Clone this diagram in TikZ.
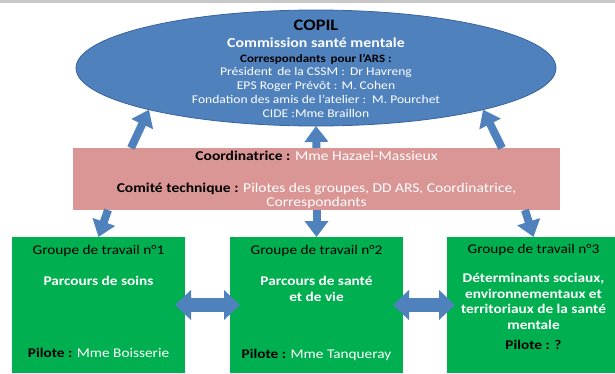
\documentclass[tikz,border=0pt]{standalone}
\usepackage{fontspec}
\setmainfont{Carlito}[FakeStretch=1.15]
\usepackage{xcolor}
\usepackage{tikz}
\usetikzlibrary{positioning,shapes.geometric,arrows.meta}

\definecolor{copilbleu}{HTML}{4F81BD}
\definecolor{copilbord}{HTML}{3A64A0}
\definecolor{comiterose}{HTML}{D99694}
\definecolor{groupevert}{HTML}{00B050}
\definecolor{cadregris}{HTML}{C8C8C8}

\begin{document}
\begin{tikzpicture}[x=1pt,y=-1pt]

\tikzstyle{every node}=[inner sep=0pt, outer sep=0pt]
\tikzstyle{groupe}=[rectangle, fill=groupevert, minimum width=173pt, minimum height=136pt, anchor=north west]
\tikzstyle{txtgroupe}=[font=\fontsize{13.3}{15.6}\selectfont, align=center]
\tikzstyle{fleche}=[-{Triangle[width=23pt,length=16pt]}, line width=8pt, copilbleu]
\tikzstyle{doublefleche}=[{Triangle[width=29pt,length=16pt]}-{Triangle[width=29pt,length=16pt]}, line width=14pt, copilbleu]

\useasboundingbox (0,0) rectangle (615,373);

% frame %
\draw[cadregris, line width=2.5pt] (0,1.5) -- (615,1.5);

% nodes %
\node[ellipse, fill=copilbleu, draw=copilbord, line width=0.8pt, minimum width=480pt, minimum height=116pt] (copil) at (316,68) {};
\node[rectangle, fill=comiterose, minimum width=487pt, minimum height=62pt] (comite) at (316.5,179) {};
\node[groupe] (g1) at (12,237) {};
\node[groupe] (g2) at (230,237) {};
\node[groupe] (g3) at (447,237) {};

% texts %
\node[align=center, text=white, font=\fontsize{11.8}{13.8}\selectfont] (copiltxt) at (316,68.5) {%
  {\fontsize{16}{16}\selectfont\bfseries\color{black} COPIL}\\[3.6pt]
  {\fontsize{13.8}{14}\selectfont\bfseries Commission santé mentale}\\[0.6pt]
  {\fontsize{11.3}{13.8}\selectfont\bfseries\color{black} Correspondants\, pour l'ARS :}\\
  Président\, de la CSSM :\, Dr Havreng\\
  EPS Roger Prévôt : M. Cohen\\
  Fondation des amis de l'atelier :\, M. Pourchet\\
  CIDE :Mme Braillon};

\node[align=center, font=\fontsize{13.5}{14.5}\selectfont] (comitetxt) at ([yshift=-1pt]comite.center) {%
  {\bfseries Coordinatrice :} \textcolor{white}{Mme Hazael-Massieux}\\[17pt]
  {\bfseries Comité technique :} \textcolor{white}{Pilotes des groupes, DD ARS, Coordinatrice,}\\
  \textcolor{white}{Correspondants}};

\node[txtgroupe, below=8pt of g1.north] (g1titre) {Groupe de travail n°1};
\node[txtgroupe, text=white, below=20pt of g1titre] (g1theme) {\bfseries Parcours de soins};
\node[txtgroupe, above=15pt of g1.south] (g1pilote) {\bfseries Pilote : \textcolor{white}{\mdseries Mme Boisserie}};

\node[txtgroupe, below=8pt of g2.north] (g2titre) {Groupe de travail n°2};
\node[txtgroupe, text=white, below=20pt of g2titre] (g2theme) {\bfseries Parcours de santé\\\bfseries et de vie};
\node[txtgroupe, above=12pt of g2.south] (g2pilote) {\bfseries Pilote : \textcolor{white}{\mdseries Mme Tanqueray}};

\node[txtgroupe, below=7pt of g3.north] (g3titre) {Groupe de travail n°3};
\node[txtgroupe, text=white, below=18pt of g3titre] (g3theme) {\bfseries Déterminants sociaux,\\\bfseries environnementaux et\\\bfseries territoriaux de la santé\\\bfseries mentale};
\node[txtgroupe, below=11pt of g3theme] (g3pilote) {\bfseries Pilote : ?};

% edges %
\coordinate (m1) at (131,148);
\coordinate (m3) at (502,148);
\coordinate (d1) at (108,210);
\coordinate (d3) at (525,210);

\draw[fleche] (m1) -- (copil.194);
\draw[fleche] (comite.north) -- (copil.south);
\draw[fleche] (m3) -- (copil.346);
\draw[fleche] (d1) -- (g1.north);
\draw[fleche] (comite.south) -- (g2.north);
\draw[fleche] (d3) -- (g3.north);
\draw[doublefleche] ([xshift=-10pt]g1.east) -- ([xshift=10pt]g2.west);
\draw[doublefleche] ([xshift=-10pt]g2.east) -- ([xshift=8pt]g3.west);

\end{tikzpicture}
\end{document}
